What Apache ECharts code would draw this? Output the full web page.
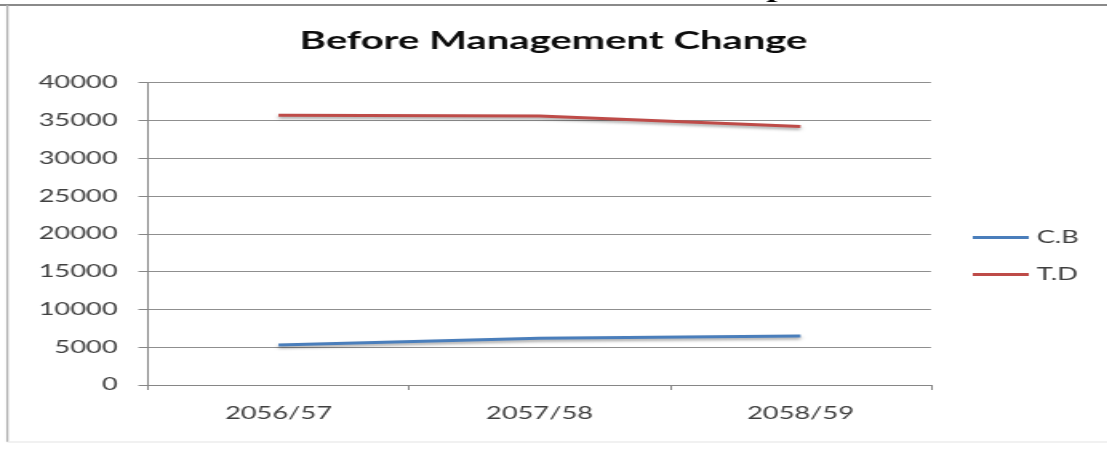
<!DOCTYPE html>
<html><head><meta charset="utf-8">
<script src="https://cdn.jsdelivr.net/npm/echarts@6/dist/echarts.min.js"></script>
<style>
html,body{margin:0;padding:0;background:#fff;overflow:hidden;}
#wrap{width:1107px;height:450px;overflow:hidden;position:relative;background:#fff;}
#chart{width:692px;height:450px;transform:scaleX(1.6);transform-origin:0 0;}
</style></head><body><div id="wrap"><div id="chart"></div></div>
<script>
// Data
const categories = ['2056/57', '2057/58', '2058/59'];
const cbValues = [5300, 6200, 6500];
const tdValues = [35700, 35600, 34200];
const seriesNames = ['C.B', 'T.D'];
const titleText = 'Before Management Change';
const yMin = 0, yMax = 40000, yInterval = 5000;

const chart = echarts.init(document.getElementById('chart'), null, {renderer: 'canvas'});
const labelFont = {fontFamily: 'Lato', fontSize: 17, color: '#404040'};
const axisGray = '#868686';
const shadow = {shadowColor: 'rgba(0,0,0,0.35)', shadowBlur: 3, shadowOffsetY: 2};

chart.setOption({
  backgroundColor: '#fff',
  animation: false,
  title: {
    text: titleText,
    left: 'center',
    top: 23,
    textStyle: {fontFamily: 'Lato', fontWeight: 'bold', fontSize: 25, color: '#0d0d0d'}
  },
  graphic: [
    {type: 'line', shape: {x1: 0, y1: 5, x2: 692, y2: 5}, style: {stroke: '#8a8a8a', lineWidth: 2}, z: 0},
    {type: 'line', shape: {x1: 4.6, y1: 5, x2: 4.6, y2: 442}, style: {stroke: '#b0b0b0', lineWidth: 1.3}, z: 0},
    {type: 'line', shape: {x1: 4.6, y1: 442, x2: 692, y2: 442}, style: {stroke: '#ececec', lineWidth: 1.5}, z: 0},
    {type: 'text', left: 479, top: -21, style: {text: 'p', font: 'bold 24px "Liberation Serif"', fill: '#000'}, z: 0}
  ],
  grid: {left: 92.5, right: 110.1, top: 82.7, bottom: 65, containLabel: false, outerBoundsMode: 'none'},
  legend: {
    orient: 'vertical',
    left: 608,
    top: 229,
    padding: 0,
    icon: 'rect',
    itemWidth: 35,
    itemHeight: 3,
    itemGap: 20,
    data: seriesNames,
    textStyle: labelFont
  },
  xAxis: {
    type: 'category',
    data: categories,
    boundaryGap: true,
    axisLine: {lineStyle: {color: axisGray, width: 1}},
    axisTick: {show: true, length: 5, alignWithLabel: false, lineStyle: {color: axisGray}},
    axisLabel: Object.assign({margin: 20}, labelFont),
    splitLine: {show: false}
  },
  yAxis: {
    type: 'value',
    min: yMin, max: yMax, interval: yInterval,
    axisLine: {show: true, lineStyle: {color: axisGray, width: 1}},
    axisTick: {show: true, length: 6, lineStyle: {color: axisGray}},
    axisLabel: Object.assign({margin: 19, formatter: v => String(v)}, labelFont),
    splitLine: {show: true, lineStyle: {color: '#8f8f8f', width: 1}}
  },
  series: [
    {name: seriesNames[0], type: 'line', data: cbValues, symbol: 'none', color: '#4a7ebb',
     lineStyle: Object.assign({width: 3, color: '#4a7ebb'}, shadow)},
    {name: seriesNames[1], type: 'line', data: tdValues, symbol: 'none', color: '#be4b48',
     lineStyle: Object.assign({width: 3, color: '#be4b48'}, shadow)}
  ]
});
</script></body></html>
